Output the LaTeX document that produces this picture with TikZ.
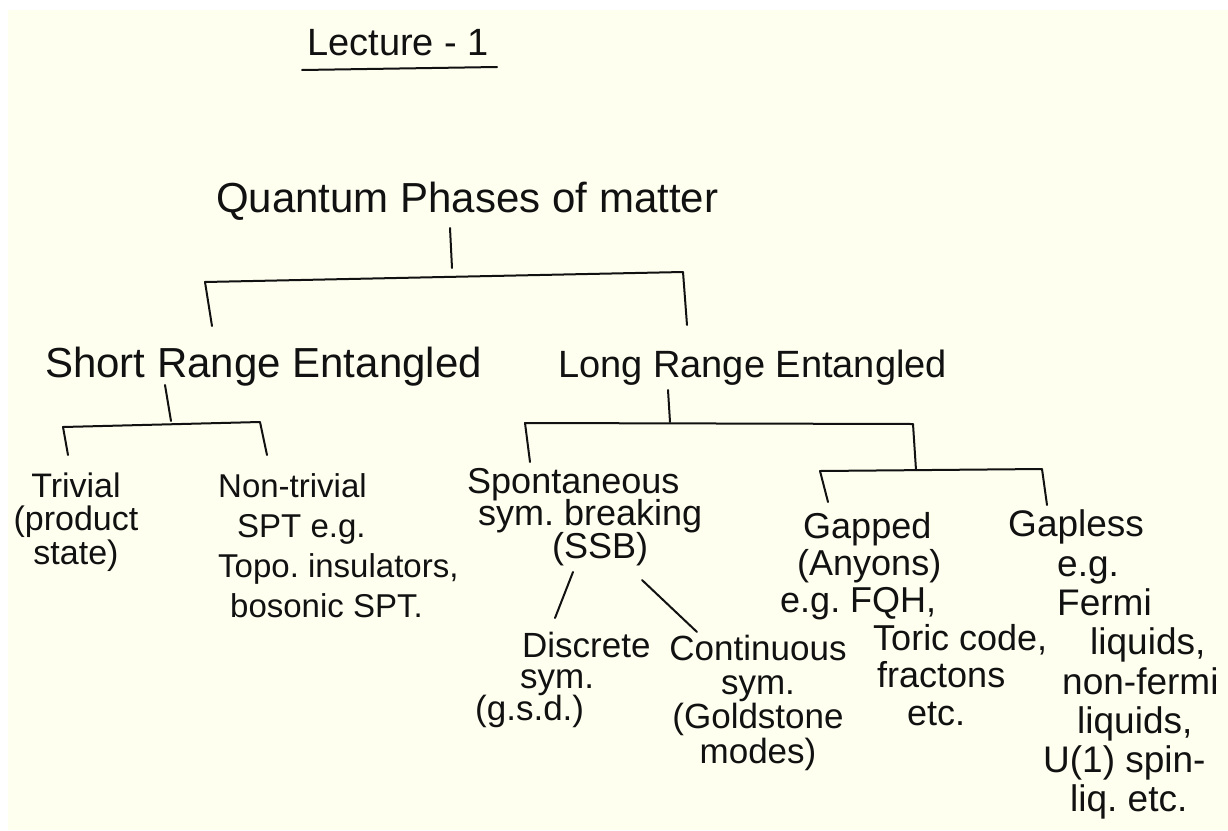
\documentclass[tikz,border=0pt]{standalone}
\usepackage{fontspec}
\setmainfont{Liberation Sans}
\definecolor{cream}{RGB}{254,255,239}
\definecolor{ink}{RGB}{17,17,17}
\newcommand\mytopstrut{\rule{0pt}{0.8em}}
\newcommand\hwsize[2]{\fontsize{#1}{#2}\selectfont\frenchspacing\lineskiplimit=-100pt\relax}
\tikzset{
  hw/.style={inner sep=0pt, text=ink},
  blk/.style={inner sep=0pt, text=ink, anchor=north west, align=left},
  blkc/.style={inner sep=0pt, text=ink, anchor=north, align=center},
  conn/.style={draw=ink, line width=2pt, line cap=round, line join=round},
}
\begin{document}
\begin{tikzpicture}[x=1pt,y=-1pt]
\useasboundingbox (0,0) rectangle (1228,830);
\fill[white] (0,0) rectangle (1228,830);
\fill[cream] (8,10) rectangle (1228,830);

% title
\node[hw, anchor=base west, font=\hwsize{38}{40}] (lecture) at (307,55) {Lecture - 1};
\coordinate (ulL) at (302,70);
\coordinate (ulR) at (497,67);
\draw[conn] (ulL) -- (ulR);

% level 0 and 1
\node[hw, anchor=base west, font=\hwsize{42}{44}] (qpm) at (216,212) {Quantum Phases of matter};
\node[hw, anchor=base west, font=\hwsize{42}{44}] (sre) at (45,377) {Short Range Entangled};
\node[hw, anchor=base west, font=\hwsize{38}{40}] (lre) at (558,377) {Long Range Entangled};

% level 2
\node[blkc, font=\hwsize{34}{33.5}] (triv) at (76,470) {\mytopstrut Trivial\\(product\\state)};
\node[blk, font=\hwsize{33}{40}] (nontriv) at (218,471) {\mytopstrut Non-trivial\\\hspace*{19pt}SPT e.g.\\Topo. insulators,\\\hspace*{12pt}bosonic SPT.};
\node[blk, font=\hwsize{36}{32.5}] (ssb) at (467,464) {\mytopstrut Spontaneous\\\hspace*{11pt}sym. breaking\\\hspace*{85pt}(SSB)};
\node[blk, font=\hwsize{36}{37.4}] (gapped) at (780,509) {\mytopstrut\hspace*{23pt}Gapped\\\hspace*{17pt}(Anyons)\\e.g. FQH,\\\hspace*{93pt}Toric code,\\\hspace*{97pt}fractons\\\hspace*{127pt}etc.};
\node[blk, font=\hwsize{37}{39.3}] (gapless) at (1008,507) {\mytopstrut Gapless\\\hspace*{49pt}e.g.\\\hspace*{49pt}Fermi\\\hspace*{82pt}liquids,\\\hspace*{54pt}non-fermi\\\hspace*{69pt}liquids,\\\hspace*{35pt}U(1) spin-\\\hspace*{62pt}liq. etc.};

% level 3
\node[blk, font=\hwsize{35}{31.5}] (disc) at (475,629) {\mytopstrut\hspace*{47pt}Discrete\\\hspace*{45pt}sym.\\(g.s.d.)};
\node[blkc, font=\hwsize{35}{34.3}] (cont) at (758,632) {\mytopstrut Continuous\\sym.\\(Goldstone\\modes)};

% connectors: root
\coordinate (qstemT) at (450,228);
\coordinate (qstemB) at (452,268);
\coordinate (qbarL) at (205,282);
\coordinate (qbarR) at (683,272);
\coordinate (sreT) at (212,326);
\coordinate (lreT) at (687,325);
\draw[conn] (qstemT) -- (qstemB);
\draw[conn] (sreT) -- (qbarL) -- (qbarR) -- (lreT);

% connectors: short range
\coordinate (srestemT) at (165,385);
\coordinate (srestemB) at (171,421);
\coordinate (srebarL) at (63,427);
\coordinate (srebarR) at (260,422);
\coordinate (trivT) at (68,455);
\coordinate (nontrivT) at (267,455);
\draw[conn] (srestemT) -- (srestemB);
\draw[conn] (trivT) -- (srebarL) -- (srebarR) -- (nontrivT);

% connectors: long range
\coordinate (lrestemT) at (668,390);
\coordinate (lrestemB) at (670,422);
\coordinate (lrebarL) at (525,423);
\coordinate (lrebarR) at (913,424);
\coordinate (ssbT) at (530,462);
\coordinate (gapT) at (916,470);
\draw[conn] (lrestemT) -- (lrestemB);
\draw[conn] (ssbT) -- (lrebarL) -- (lrebarR) -- (gapT);

\coordinate (ggbarL) at (820,471);
\coordinate (ggbarR) at (1042,469);
\coordinate (gappedT) at (828,502);
\coordinate (gaplessT) at (1047,505);
\draw[conn] (gappedT) -- (ggbarL) -- (ggbarR) -- (gaplessT);

% connectors: SSB
\coordinate (ssbL) at (573,572);
\coordinate (discT) at (555,618);
\coordinate (ssbR) at (642,580);
\coordinate (contT) at (697,632);
\draw[conn] (ssbL) -- (discT);
\draw[conn] (ssbR) -- (contT);
\end{tikzpicture}
\end{document}
